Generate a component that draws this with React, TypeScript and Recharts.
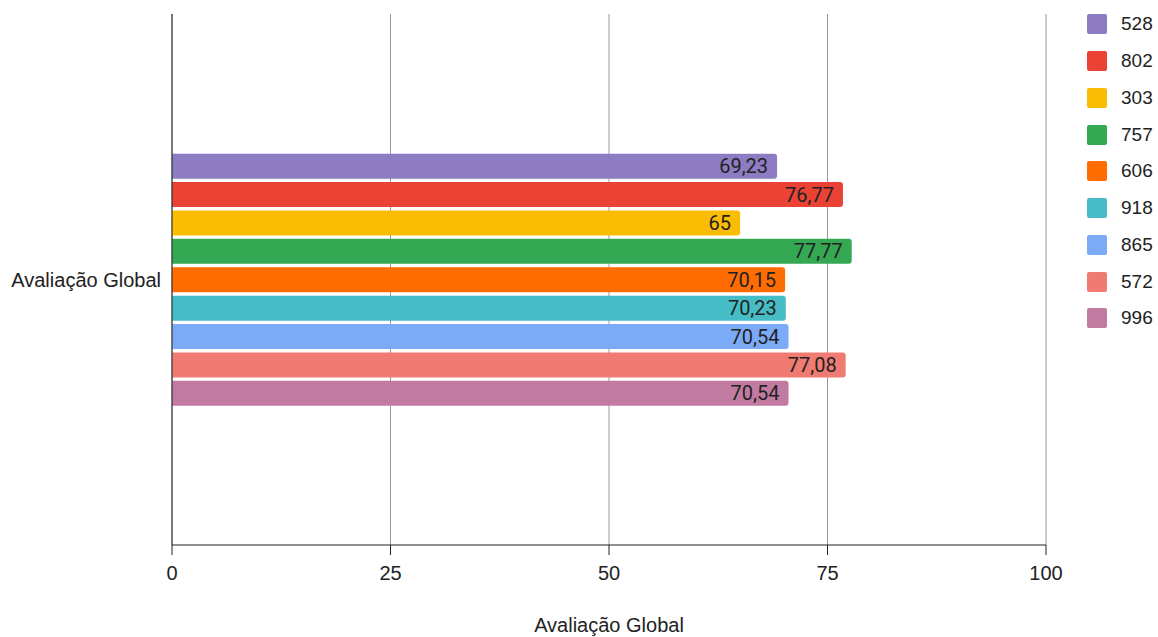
import {
  BarChart,
  Bar,
  XAxis,
  YAxis,
  CartesianGrid,
  LabelList,
  Label,
} from "recharts";

const CATEGORY = "Avaliação Global";
const SERIES = ["528", "802", "303", "757", "606", "918", "865", "572", "996"];
const VALUES = [69.23, 76.77, 65, 77.77, 70.15, 70.23, 70.54, 77.08, 70.54];
const COLORS = [
  "#8e7cc3",
  "#ea4335",
  "#fbbc04",
  "#34a853",
  "#ff6d01",
  "#46bdc6",
  "#7baaf7",
  "#f07b72",
  "#c27ba0",
];
const TICKS = [0, 25, 50, 75, 100];

const AXIS_FONT = "'Liberation Sans', Arial, sans-serif";

const row: Record<string, string | number> = { name: CATEGORY };
SERIES.forEach((s, i) => {
  row[s] = VALUES[i];
});
const chartData = [row];

const fmt = (v: any) => String(v).replace(".", ",");

function LegendBox() {
  return (
    <div
      style={{
        position: "absolute",
        left: 1087,
        top: 6,
        fontFamily: AXIS_FONT,
        fontSize: 19,
        color: "#222",
      }}
    >
      {SERIES.map((s, i) => (
        <div
          key={s}
          style={{ display: "flex", alignItems: "center", height: 36.75 }}
        >
          <span
            style={{
              display: "inline-block",
              width: 20,
              height: 20,
              borderRadius: 2,
              background: COLORS[i],
              marginRight: 14,
            }}
          />
          <span>{s}</span>
        </div>
      ))}
    </div>
  );
}

export default function App() {
  return (
    <div
      style={{
        position: "absolute",
        left: 0,
        top: 0,
        width: 1158,
        height: 637,
        background: "#fff",
      }}
    >
      <BarChart
        width={1158}
        height={637}
        data={chartData}
        layout="vertical"
        margin={{ top: 14, right: 112, bottom: 0, left: 0 }}
        barCategoryGap="26.3%"
        barGap={3.4}
      >
        <CartesianGrid horizontal={false} stroke="#999" />
        <XAxis
          type="number"
          domain={[0, 100]}
          ticks={TICKS}
          height={92}
          stroke="#222"
          tickSize={10}
          tickMargin={11}
          tick={{ fontSize: 20, fill: "#222", fontFamily: AXIS_FONT }}
        >
          <Label
            value="Avaliação Global"
            position="insideBottom"
            offset={5}
            style={{ fontSize: 20, fill: "#222", fontFamily: AXIS_FONT }}
          />
        </XAxis>
        <YAxis
          type="category"
          dataKey="name"
          width={172}
          stroke="#222"
          tickLine={false}
          tickSize={0}
          tickMargin={11}
          tick={{ fontSize: 20, fill: "#222", fontFamily: AXIS_FONT }}
        />
        {SERIES.map((s, i) => (
          <Bar
            key={s}
            dataKey={s}
            fill={COLORS[i]}
            radius={[0, 3, 3, 0]}
            isAnimationActive={false}
          >
            <LabelList
              dataKey={s}
              position="insideRight"
              offset={9}
              formatter={fmt}
              style={{ fontSize: 20, fill: "#222", fontFamily: "Roboto" }}
            />
          </Bar>
        ))}
      </BarChart>
      <LegendBox />
    </div>
  );
}
